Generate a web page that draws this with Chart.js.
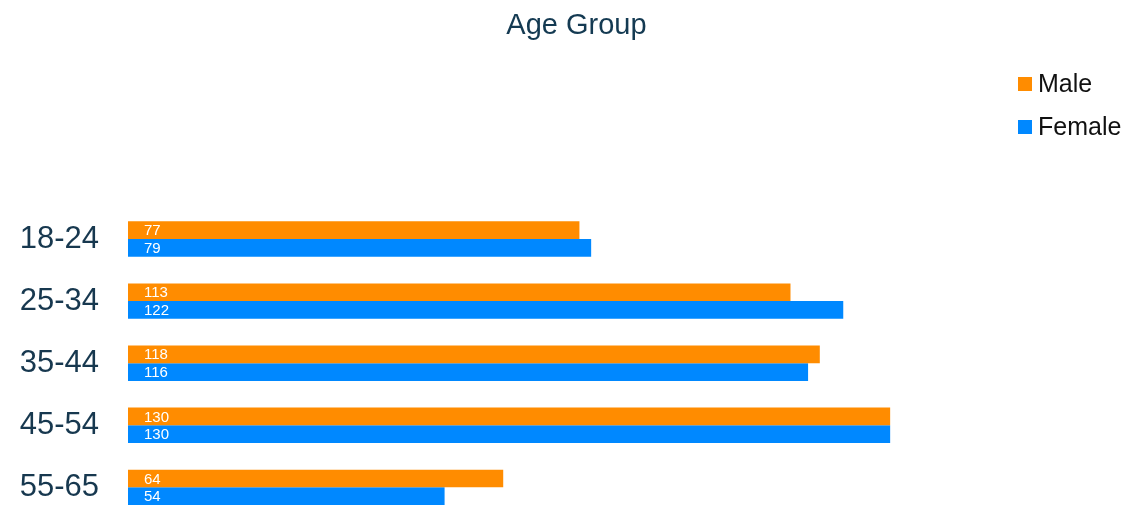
<!DOCTYPE html>
<html><head><meta charset="utf-8">
<script src="https://cdn.jsdelivr.net/npm/chart.js@4.4.0/dist/chart.umd.min.js"></script>
<style>
html,body{margin:0;padding:0;overflow:hidden;background:#fff}
canvas{display:block}
</style>
</head><body>
<canvas id="c" width="1133" height="566" style="width:1133px;height:566px"></canvas>
<script>
const chartTitle = 'Age Group';
const categories = ['18-24', '25-34', '35-44', '45-54', '55-65'];
const seriesNames = ['Male', 'Female'];
const maleValues = [77, 113, 118, 130, 64];
const femaleValues = [79, 122, 116, 130, 54];
const seriesColors = ['#FF8C00', '#0088FF'];

const FONT = '"Liberation Sans", Arial, Helvetica, sans-serif';

const valueLabels = {
  id: 'valueLabels',
  afterDatasetsDraw(chart) {
    const ctx = chart.ctx;
    ctx.save();
    ctx.font = '15px ' + FONT;
    ctx.fillStyle = '#ffffff';
    ctx.textAlign = 'left';
    ctx.textBaseline = 'middle';
    chart.data.datasets.forEach((ds, di) => {
      const meta = chart.getDatasetMeta(di);
      meta.data.forEach((el, i) => {
        const left = Math.min(el.base, el.x);
        ctx.fillText(String(ds.data[i]), left + 16, el.y + 1);
      });
    });
    ctx.restore();
  }
};

const sideLegend = {
  id: 'sideLegend',
  afterDraw(chart) {
    const ctx = chart.ctx;
    ctx.save();
    ctx.font = '25px ' + FONT;
    ctx.textAlign = 'left';
    ctx.textBaseline = 'middle';
    const x0 = chart.width - 115;
    chart.data.datasets.forEach((ds, i) => {
      const cy = 84 + i * 43;
      ctx.fillStyle = ds.backgroundColor;
      ctx.fillRect(x0, cy - 7, 14, 14);
      ctx.fillStyle = '#111111';
      ctx.fillText(ds.label, x0 + 20, cy + 1);
    });
    ctx.restore();
  }
};

new Chart(document.getElementById('c'), {
  type: 'bar',
  data: {
    labels: categories,
    datasets: [
      { label: seriesNames[0], data: maleValues, backgroundColor: seriesColors[0], borderWidth: 0 },
      { label: seriesNames[1], data: femaleValues, backgroundColor: seriesColors[1], borderWidth: 0 }
    ]
  },
  options: {
    indexAxis: 'y',
    responsive: false,
    maintainAspectRatio: false,
    animation: false,
    layout: { padding: { left: 0, right: 108, top: 0, bottom: 2 } },
    datasets: { bar: { categoryPercentage: 0.571, barPercentage: 1.0 } },
    scales: {
      x: { display: false, min: 0, max: 153 },
      y: {
        grid: { display: false, drawTicks: false },
        border: { display: false },
        ticks: { padding: 29, color: '#17384f', font: { family: FONT, size: 31 } },
        afterFit(scale) { scale.width = 128; }
      }
    },
    plugins: {
      legend: { display: false },
      tooltip: { enabled: false },
      title: {
        display: true,
        text: chartTitle,
        fullSize: false,
        color: '#143a52',
        font: { family: FONT, size: 29, weight: 'normal' },
        padding: { top: 9, bottom: 164.2 }
      }
    }
  },
  plugins: [valueLabels, sideLegend]
});
</script>
</body></html>
